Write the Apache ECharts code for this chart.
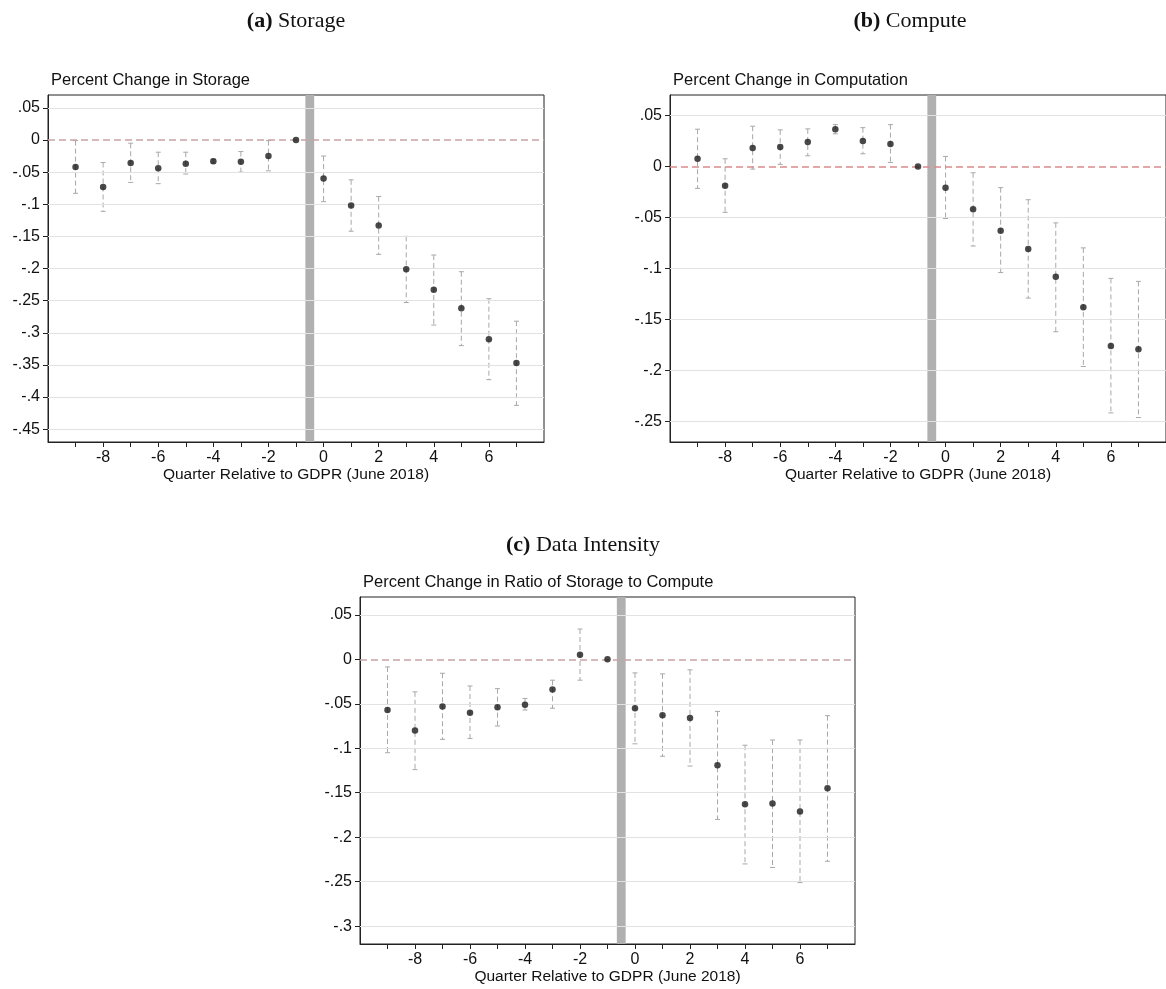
<!DOCTYPE html>
<html>
<head>
<meta charset="utf-8">
<script src="https://cdn.jsdelivr.net/npm/echarts@6/dist/echarts.min.js"></script>
<style>
html,body{margin:0;padding:0;background:#fff;}
#chart{width:1166px;height:989px;}
</style>
</head>
<body>
<div id="chart"></div>
<script>
// ---------- data ----------
const quarters = [-9,-8,-7,-6,-5,-4,-3,-2,-1,0,1,2,3,4,5,6,7];

const storageEst = [-0.042,-0.073,-0.036,-0.044,-0.037,-0.033,-0.034,-0.025,0,-0.060,-0.102,-0.133,-0.201,-0.233,-0.262,-0.310,-0.347];
const storageLo  = [-0.083,-0.111,-0.066,-0.068,-0.053,-0.036,-0.050,-0.048,null,-0.096,-0.142,-0.178,-0.253,-0.288,-0.320,-0.373,-0.413];
const storageHi  = [-0.001,-0.035,-0.005,-0.019,-0.019,-0.030,-0.018,-0.001,null,-0.025,-0.062,-0.088,-0.150,-0.179,-0.205,-0.247,-0.282];

const computeEst = [0.0075,-0.019,0.018,0.019,0.024,0.0365,0.025,0.022,0,-0.021,-0.042,-0.063,-0.081,-0.108,-0.138,-0.176,-0.179];
const computeLo  = [-0.0215,-0.045,-0.0026,0.002,0.0104,0.032,0.0124,0.0039,null,-0.051,-0.078,-0.104,-0.129,-0.162,-0.196,-0.2415,-0.246];
const computeHi  = [0.0365,0.0075,0.0394,0.0358,0.0368,0.041,0.038,0.041,null,0.0098,-0.0062,-0.0208,-0.0326,-0.0553,-0.0798,-0.1097,-0.1126];

const ratioEst = [-0.057,-0.080,-0.053,-0.060,-0.054,-0.051,-0.034,0.005,0,-0.055,-0.063,-0.066,-0.119,-0.163,-0.162,-0.171,-0.145];
const ratioLo  = [-0.105,-0.124,-0.090,-0.089,-0.075,-0.057,-0.055,-0.0235,null,-0.095,-0.109,-0.120,-0.180,-0.230,-0.234,-0.251,-0.227];
const ratioHi  = [-0.0086,-0.0366,-0.0157,-0.030,-0.033,-0.044,-0.0235,0.034,null,-0.0153,-0.0164,-0.0119,-0.0586,-0.0966,-0.0907,-0.0907,-0.0634];

const xTickValues  = [-9,-8,-7,-6,-5,-4,-3,-2,-1,0,1,2,3,4,5,6,7];
const xLabelValues = [-8,-6,-4,-2,0,2,4,6];
const xLabelTexts  = ['-8','-6','-4','-2','0','2','4','6'];

const yTicksA  = [0.05,0,-0.05,-0.1,-0.15,-0.2,-0.25,-0.3,-0.35,-0.4,-0.45];
const yLabelsA = ['.05','0','-.05','-.1','-.15','-.2','-.25','-.3','-.35','-.4','-.45'];
const yTicksB  = [0.05,0,-0.05,-0.1,-0.15,-0.2,-0.25];
const yLabelsB = ['.05','0','-.05','-.1','-.15','-.2','-.25'];
const yTicksC  = [0.05,0,-0.05,-0.1,-0.15,-0.2,-0.25,-0.3];
const yLabelsC = ['.05','0','-.05','-.1','-.15','-.2','-.25','-.3'];

const panelTitles = ['(a)','(b)','(c)'];
const panelNames  = ['Storage','Compute','Data Intensity'];
const subTitles   = ['Percent Change in Storage','Percent Change in Computation','Percent Change in Ratio of Storage to Compute'];
const xAxisName   = 'Quarter Relative to GDPR (June 2018)';
const gdprLine    = [-0.66,-0.34];

// ---------- layout / style ----------
const SANS = 'Liberation Sans, Arial, sans-serif';
const SERIF = 'Liberation Serif, Times New Roman, serif';
const panels = [
  {grid:{left:48, top:95, width:496, height:347}, yMin:-0.47, yMax:0.07, ticks:yTicksA, labels:yLabelsA,
   est:storageEst, lo:storageLo, hi:storageHi, zeroColor:'#c8a2a8', sub:{left:51, top:72}, head:{x:296, y:21}},
  {grid:{left:670, top:95, width:497, height:347}, yMin:-0.27, yMax:0.07, ticks:yTicksB, labels:yLabelsB,
   est:computeEst, lo:computeLo, hi:computeHi, zeroColor:'#dc8a8a', sub:{left:673, top:72}, head:{x:910, y:21}},
  {grid:{left:360, top:597, width:495, height:347}, yMin:-0.32, yMax:0.07, ticks:yTicksC, labels:yLabelsC,
   est:ratioEst, lo:ratioLo, hi:ratioHi, zeroColor:'#c8a2a8', sub:{left:363, top:574}, head:{x:583, y:545}}
];

function lookupLabel(ticks, labels, v){
  for (let i=0;i<ticks.length;i++){ if (Math.abs(ticks[i]-v) < 1e-6) return labels[i]; }
  return '';
}

const option = {
  animation:false,
  backgroundColor:'#fff',
  title:[], grid:[], xAxis:[], yAxis:[], series:[], graphic:[]
};

panels.forEach((p, i) => {
  option.grid.push(Object.assign({show:true, borderColor:'#222', borderWidth:1, backgroundColor:'transparent'}, p.grid));
  option.title.push({text:subTitles[i], left:p.sub.left, top:p.sub.top, padding:0,
    textStyle:{fontFamily:SANS, fontSize:16.5, fontWeight:'normal', color:'#111'}});
  option.graphic.push({type:'text', x:p.head.x, y:p.head.y, style:{
    text:'{b|' + panelTitles[i] + '} ' + panelNames[i],
    align:'center', verticalAlign:'middle',
    font:'22px ' + SERIF, fill:'#111',
    rich:{b:{fontWeight:'bold', fontSize:22, fontFamily:SERIF, fill:'#111'}}
  }});
  option.xAxis.push({
    type:'value', gridIndex:i, min:-10, max:8, position:'bottom',
    name:xAxisName, nameLocation:'middle', nameGap:23,
    nameTextStyle:{fontFamily:SANS, fontSize:15.5, color:'#111'},
    axisLine:{show:true, onZero:false, lineStyle:{color:'#222', width:1}},
    axisTick:{show:true, customValues:xTickValues, length:5, lineStyle:{color:'#222'}},
    axisLabel:{customValues:xLabelValues, fontFamily:SANS, fontSize:16, color:'#111', margin:8,
      formatter:v => lookupLabel(xLabelValues, xLabelTexts, v)},
    splitLine:{show:false}
  });
  option.yAxis.push({
    type:'value', gridIndex:i, min:p.yMin, max:p.yMax, position:'left',
    axisLine:{show:true, onZero:false, lineStyle:{color:'#222', width:1}},
    axisTick:{show:true, customValues:p.ticks, length:5, lineStyle:{color:'#222'}},
    axisLabel:{customValues:p.ticks, fontFamily:SANS, fontSize:16, color:'#111', margin:8,
      formatter:v => lookupLabel(p.ticks, p.labels, v)},
    splitLine:{show:false}
  });
  // grid lines
  option.series.push({
    type:'line', xAxisIndex:i, yAxisIndex:i, data:[], silent:true, z:1,
    markLine:{silent:true, symbol:['none','none'], label:{show:false}, animation:false,
      lineStyle:{color:'#e2e2e2', width:1, type:'solid'},
      data:p.ticks.filter(t => t !== 0).map(t => ({yAxis:t}))}
  });
  // zero reference line
  option.series.push({
    type:'line', xAxisIndex:i, yAxisIndex:i, data:[], silent:true, z:2,
    markLine:{silent:true, symbol:['none','none'], label:{show:false}, animation:false,
      lineStyle:{color:p.zeroColor, width:1.5, type:[7,4]},
      data:[{yAxis:0}]}
  });
  // GDPR bar
  option.series.push({
    type:'line', xAxisIndex:i, yAxisIndex:i, data:[], silent:true, z:3,
    markArea:{silent:true, animation:false, itemStyle:{color:'#b0b0b0', opacity:1},
      data:[[{xAxis:gdprLine[0]},{xAxis:gdprLine[1]}]]}
  });
  // error bars
  option.series.push({
    type:'custom', xAxisIndex:i, yAxisIndex:i, z:4, silent:true,
    data:quarters.map((q, k) => [q, p.lo[k], p.hi[k]]),
    encode:{x:0, y:[1,2]},
    renderItem:function(params, api){
      const lo = api.value(1), hi = api.value(2);
      if (lo === null || hi === null || isNaN(lo) || isNaN(hi)) return null;
      const x = api.value(0);
      const a = api.coord([x, hi]), b = api.coord([x, lo]);
      const hw = 2.5;
      const st = {stroke:'#a8a8a8', lineWidth:1};
      return {type:'group', children:[
        {type:'line', shape:{x1:a[0], y1:a[1], x2:b[0], y2:b[1]}, style:Object.assign({lineDash:[5,3]}, st)},
        {type:'line', shape:{x1:a[0]-hw, y1:a[1], x2:a[0]+hw, y2:a[1]}, style:st},
        {type:'line', shape:{x1:b[0]-hw, y1:b[1], x2:b[0]+hw, y2:b[1]}, style:st}
      ]};
    }
  });
  // point estimates
  option.series.push({
    type:'scatter', xAxisIndex:i, yAxisIndex:i, z:5, silent:true,
    symbol:'circle', symbolSize:6.5,
    itemStyle:{color:'#1a1a1a'},
    data:quarters.map((q, k) => [q, p.est[k]])
  });
});

const chart = echarts.init(document.getElementById('chart'), null, {renderer:'canvas'});
chart.setOption(option);
</script>
</body>
</html>
